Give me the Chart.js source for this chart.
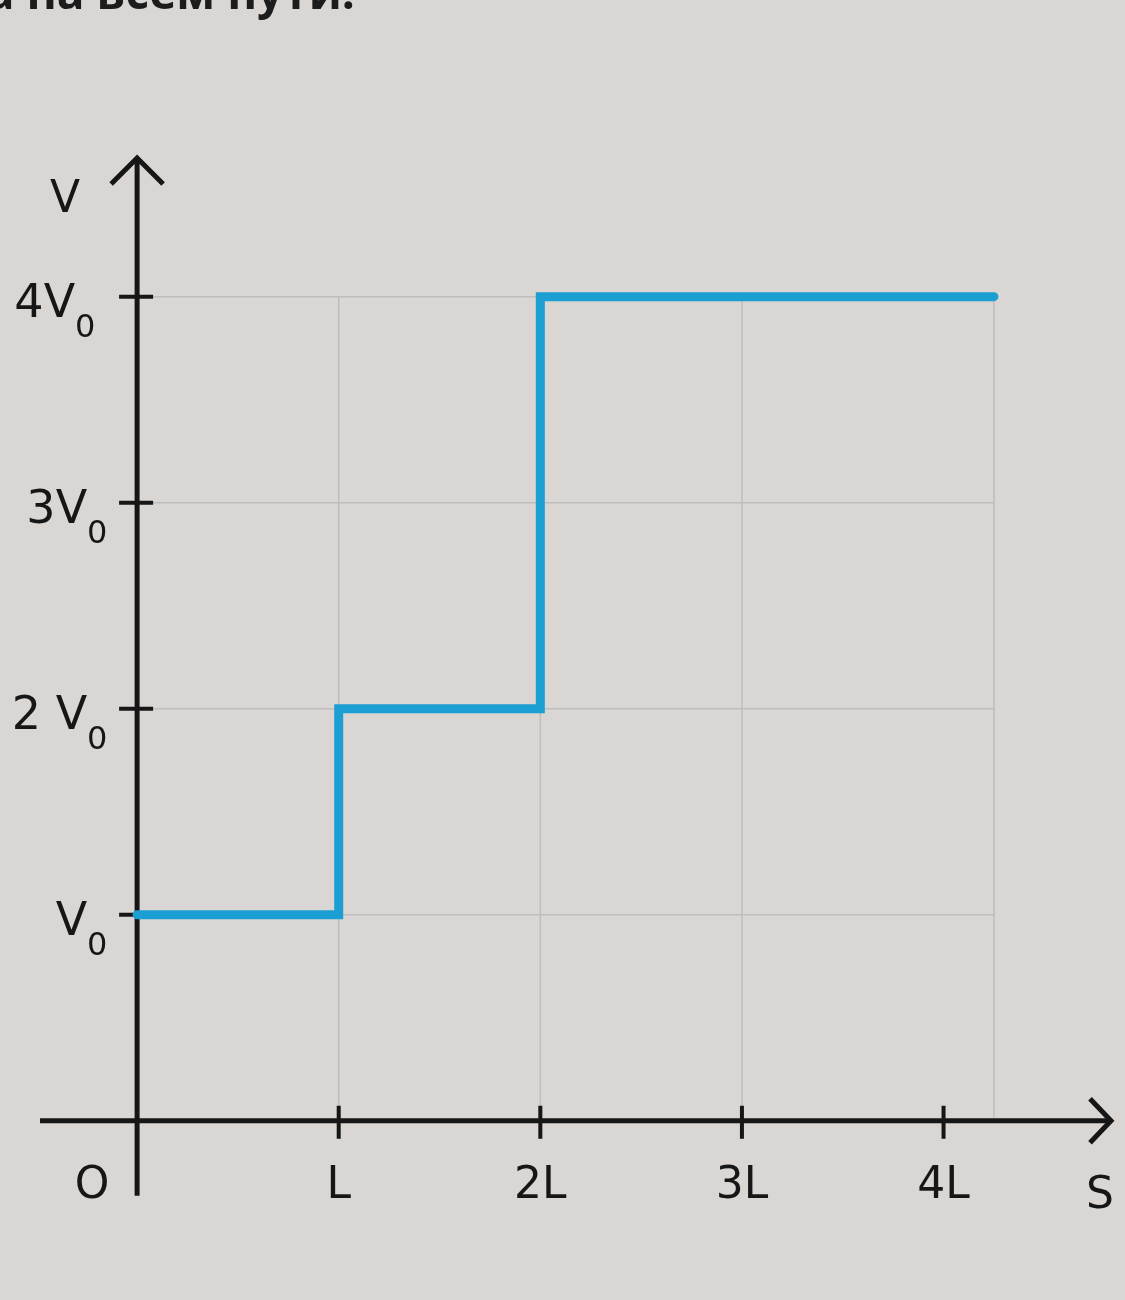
<!DOCTYPE html>
<html>
<head>
<meta charset="utf-8">
<script src="https://cdn.jsdelivr.net/npm/chart.js@4/dist/chart.umd.min.js"></script>
<style>
  html, body { margin: 0; padding: 0; background: #d9d6d3; overflow: hidden; }
  #wrap { position: relative; width: 1125px; height: 1300px; }
  #top { position: absolute; right: 770px; top: -40px; font: bold 46px "Open Sans", sans-serif; color: #1c1c1c; white-space: nowrap; }
</style>
</head>
<body>
<div id="wrap">
  <canvas id="c" width="1125" height="1300"></canvas>
  <div id="top">тела на всем пути.</div>
</div>
<script>
// --- DATA --- //
const sPoints = [0, 1, 2, 4.25]; // path, in units of L
const vPoints = [1, 2, 4, 4]; // speed, in units of V0
const xTickValues = [0, 1, 2, 3, 4];
const xTickLabels = ["O", "L", "2L", "3L", "4L"];
const yTickValues = [1, 2, 3, 4];
const yTickLabels = ["V", "2 V", "3V", "4V"];
const gridX = [1, 2, 3, 4.25];
const gridY = [1, 2, 3, 4];

const ink = "#161616";

// draws axes, arrows, grid, ticks and labels from the chart scales
const axesPlugin = {
  id: "axes",
  beforeDatasetsDraw(chart) {
    const { ctx, scales } = chart;
    const x = scales.x, y = scales.y;
    const x0 = x.getPixelForValue(0), y0 = y.getPixelForValue(0);
    const xEnd = x.getPixelForValue(4.25), yTop = y.getPixelForValue(4);

    // grid
    ctx.save();
    ctx.strokeStyle = "#bdbdbd";
    ctx.lineWidth = 1.5;
    gridX.forEach((v) => {
      const px = x.getPixelForValue(v);
      ctx.beginPath(); ctx.moveTo(px, yTop); ctx.lineTo(px, y0); ctx.stroke();
    });
    gridY.forEach((v) => {
      const py = y.getPixelForValue(v);
      ctx.beginPath(); ctx.moveTo(x0, py); ctx.lineTo(xEnd, py); ctx.stroke();
    });

    // axes
    ctx.strokeStyle = ink;
    ctx.lineWidth = 5;
    ctx.lineCap = "butt";
    ctx.beginPath(); ctx.moveTo(x0, y0 + 75); ctx.lineTo(x0, 157); ctx.stroke();
    ctx.beginPath(); ctx.moveTo(40, y0); ctx.lineTo(1110, y0); ctx.stroke();
    ctx.lineJoin = "miter";
    ctx.beginPath(); ctx.moveTo(x0 - 26, 184); ctx.lineTo(x0, 158); ctx.lineTo(x0 + 26, 184); ctx.stroke();
    ctx.beginPath(); ctx.moveTo(1090, y0 - 22); ctx.lineTo(1111, y0); ctx.lineTo(1090, y0 + 22); ctx.stroke();

    // ticks
    ctx.lineWidth = 4;
    yTickValues.forEach((v) => {
      const py = y.getPixelForValue(v);
      ctx.beginPath(); ctx.moveTo(x0 - 18, py); ctx.lineTo(v === 1 ? x0 : x0 + 16, py); ctx.stroke();
    });
    xTickValues.slice(1).forEach((v) => {
      const px = x.getPixelForValue(v);
      ctx.beginPath(); ctx.moveTo(px, y0 - 15); ctx.lineTo(px, y0 + 18); ctx.stroke();
    });

    // labels
    ctx.fillStyle = ink;
    ctx.textBaseline = "alphabetic";
    yTickValues.forEach((v, i) => {
      const py = y.getPixelForValue(v);
      const right = v === 4 ? x0 - 62 : x0 - 50;
      ctx.font = "46px 'DejaVu Sans', sans-serif";
      ctx.textAlign = "right";
      ctx.fillText(yTickLabels[i], right, py + 20);
      ctx.font = "32px 'DejaVu Sans', sans-serif";
      ctx.textAlign = "left";
      ctx.fillText("0", right, py + 40);
    });
    ctx.font = "44px 'DejaVu Sans', sans-serif";
    ctx.textAlign = "center";
    ctx.fillText("V", 65, 212);
    xTickValues.forEach((v, i) => {
      const px = i === 0 ? x0 - 45 : x.getPixelForValue(v);
      ctx.fillText(xTickLabels[i], px, y0 + 77);
    });
    ctx.fillText("S", 1100, y0 + 87);
    ctx.restore();
  },
};

new Chart(document.getElementById("c"), {
  type: "line",
  data: {
    datasets: [
      {
        data: sPoints.map((s, i) => ({ x: s, y: vPoints[i] })),
        borderColor: "rgb(27, 158, 210)",
        borderWidth: 9,
        borderCapStyle: "round",
        borderJoinStyle: "miter",
        stepped: true,
        pointRadius: 0,
        fill: false,
      },
    ],
  },
  options: {
    responsive: false,
    animation: false,
    layout: { padding: 0 },
    plugins: { legend: { display: false }, tooltip: { enabled: false } },
    scales: {
      x: { type: "linear", min: -0.68, max: 4.9, display: false },
      y: { type: "linear", min: -0.87, max: 5.44, display: false },
    },
  },
  plugins: [axesPlugin],
});
</script>
</body>
</html>
